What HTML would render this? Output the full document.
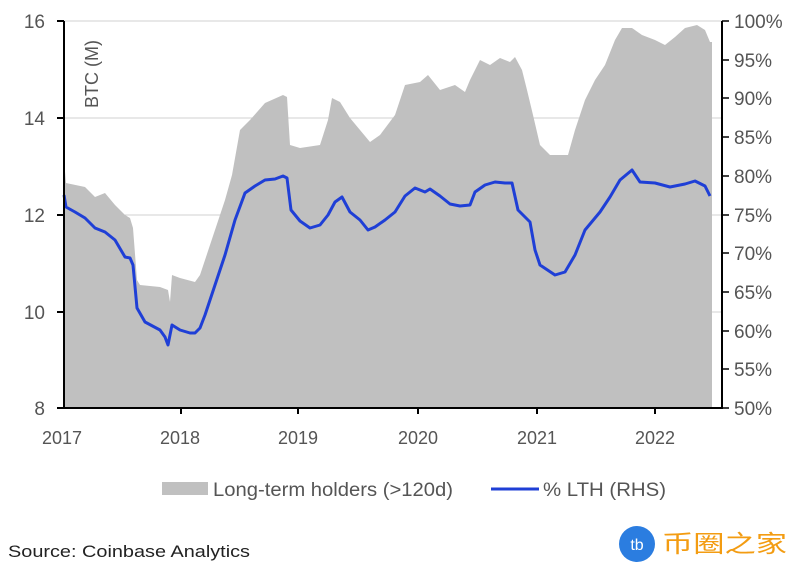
<!DOCTYPE html>
<html><head><meta charset="utf-8"><style>
body{margin:0;background:#fff;width:800px;height:563px;overflow:hidden;font-family:"Liberation Sans",sans-serif}
</style></head><body>
<svg width="800" height="563" viewBox="0 0 800 563" xmlns="http://www.w3.org/2000/svg" font-family="Liberation Sans, sans-serif">
<g stroke="#d0d0d0" stroke-width="1">
<line x1="64" y1="21" x2="722" y2="21"/><line x1="64" y1="118" x2="722" y2="118"/><line x1="64" y1="215" x2="722" y2="215"/><line x1="64" y1="312" x2="722" y2="312"/>
</g>
<polygon fill="#c0c0c0" points="64,408 64,160 66,183 85,187 95,197 105,193 115,205 125,215 130,218 133,228 137,280 140,285 160,287 168,290 170,302 172,275 180,278 195,282 200,275 205,260 215,230 225,200 232,175 240,130 250,120 265,103 283,95 287,97 290,145 300,148 320,145 328,120 332,98 340,102 350,118 360,130 370,142 380,135 395,115 400,100 405,85 420,82 428,75 440,90 455,85 465,92 470,80 480,60 490,65 500,58 510,62 515,57 522,70 527,90 533,115 540,145 550,155 568,155 575,130 585,100 595,80 605,65 615,40 622,28 632,28 642,35 655,40 665,45 675,37 685,28 697,25 705,30 710,42 712,42 712,408"/>
<polyline fill="none" stroke="#1f3fd6" stroke-width="3" stroke-linejoin="round" points="64,195 66,207 75,212 85,218 95,228 105,232 115,240 125,257 130,258 133,265 137,308 145,322 160,330 165,337 168,345 172,325 180,330 190,333 195,333 200,328 205,315 215,285 225,255 235,220 245,193 255,186 265,180 275,179 283,176 287,178 291,210 300,221 310,228 320,225 328,215 335,202 342,197 350,212 360,220 368,230 375,227 385,220 395,212 405,196 415,188 425,192 430,189 440,196 450,204 460,206 470,205 475,192 485,185 495,182 505,183 512,183 518,210 530,222 535,250 540,265 555,275 565,272 575,255 585,230 600,212 610,197 620,180 632,170 640,182 655,183 670,187 685,184 695,181 705,186 710,196"/>
<g stroke="#000" stroke-width="2">
<line x1="64" y1="21" x2="64" y2="409"/><line x1="722" y1="21" x2="722" y2="409"/><line x1="63" y1="408" x2="723" y2="408"/>
<line x1="57" y1="21" x2="64" y2="21"/><line x1="57" y1="118" x2="64" y2="118"/><line x1="57" y1="215" x2="64" y2="215"/><line x1="57" y1="312" x2="64" y2="312"/><line x1="57" y1="408" x2="64" y2="408"/>
<line x1="181" y1="408" x2="181" y2="414"/><line x1="298" y1="408" x2="298" y2="414"/><line x1="418" y1="408" x2="418" y2="414"/><line x1="537" y1="408" x2="537" y2="414"/><line x1="655" y1="408" x2="655" y2="414"/>
</g>
<g stroke="#000" stroke-width="1.5">
<line x1="722" y1="21" x2="729" y2="21"/><line x1="722" y1="60" x2="729" y2="60"/><line x1="722" y1="98" x2="729" y2="98"/><line x1="722" y1="137" x2="729" y2="137"/><line x1="722" y1="176" x2="729" y2="176"/><line x1="722" y1="215" x2="729" y2="215"/><line x1="722" y1="253" x2="729" y2="253"/><line x1="722" y1="292" x2="729" y2="292"/><line x1="722" y1="331" x2="729" y2="331"/><line x1="722" y1="369" x2="729" y2="369"/><line x1="722" y1="408" x2="729" y2="408"/>
</g>
<g fill="#555" font-size="19" text-anchor="end">
<text x="45" y="28">16</text><text x="45" y="125">14</text><text x="45" y="222">12</text><text x="45" y="319">10</text><text x="45" y="415">8</text>
</g>
<g fill="#555" font-size="19">
<text x="734" y="28">100%</text><text x="734" y="67">95%</text><text x="734" y="105">90%</text><text x="734" y="144">85%</text><text x="734" y="183">80%</text><text x="734" y="222">75%</text><text x="734" y="260">70%</text><text x="734" y="299">65%</text><text x="734" y="338">60%</text><text x="734" y="376">55%</text><text x="734" y="415">50%</text>
</g>
<g fill="#555" font-size="18" text-anchor="middle">
<text x="62" y="444">2017</text><text x="180" y="444">2018</text><text x="298" y="444">2019</text><text x="418" y="444">2020</text><text x="537" y="444">2021</text><text x="655" y="444">2022</text>
</g>
<text transform="translate(98,108) rotate(-90)" fill="#555" font-size="18">BTC (M)</text>
<rect x="162" y="482" width="46" height="13" fill="#c0c0c0"/>
<text x="213" y="496" fill="#555" font-size="19" textLength="240" lengthAdjust="spacingAndGlyphs">Long-term holders (&gt;120d)</text>
<line x1="491" y1="489" x2="539" y2="489" stroke="#1f3fd6" stroke-width="3"/>
<text x="543" y="496" fill="#555" font-size="19" textLength="123" lengthAdjust="spacingAndGlyphs">% LTH (RHS)</text>
<text x="8" y="557" fill="#222" font-size="17" textLength="242" lengthAdjust="spacingAndGlyphs">Source: Coinbase Analytics</text>
<circle cx="637" cy="544" r="18" fill="#2b7de0"/>
<text x="637" y="550" fill="#fff" font-size="16" text-anchor="middle">tb</text>
<text x="662" y="552" fill="#f39c12" font-size="24" font-family="Noto Sans CJK SC, sans-serif" textLength="125" lengthAdjust="spacingAndGlyphs">币圈之家</text>
</svg>
</body></html>
